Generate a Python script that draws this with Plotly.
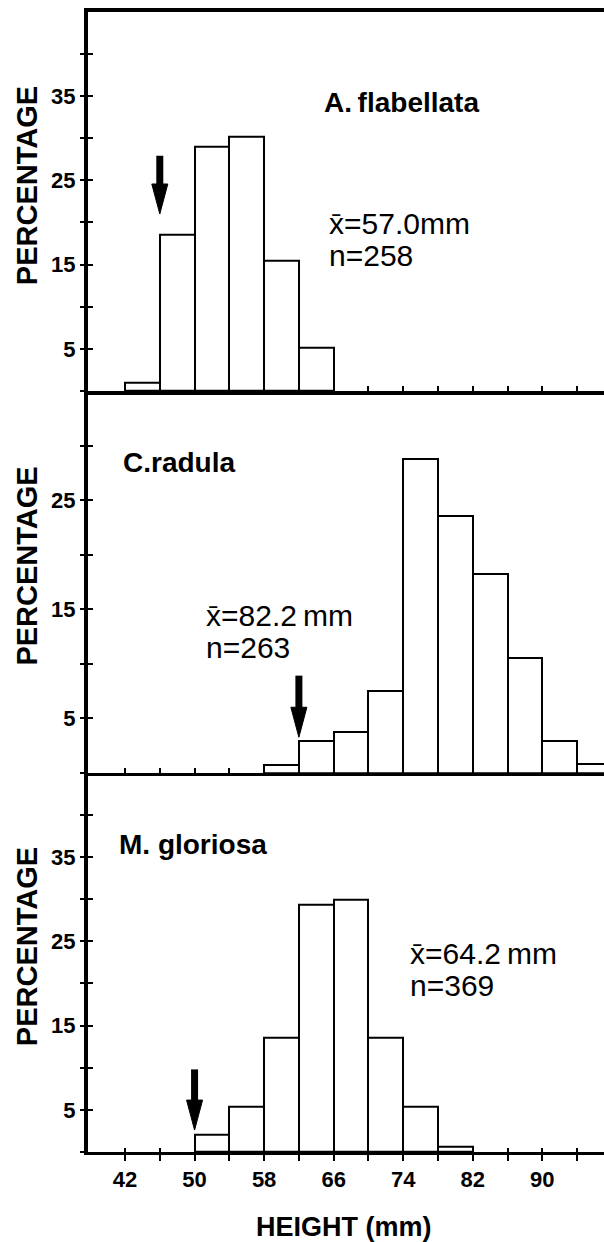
import plotly.graph_objects as go

# ---------------- data ----------------
bin_width = 4
flab_bins = [42, 46, 50, 54, 58, 62]
flab_pct = [1.0, 18.6, 29.0, 30.2, 15.5, 5.1]

rad_bins = [58, 62, 66, 70, 74, 78, 82, 86, 90, 94]
rad_pct = [0.7, 2.9, 3.7, 7.5, 28.8, 23.5, 18.2, 10.5, 2.9, 0.8]

glo_bins = [50, 54, 58, 62, 66, 70, 74, 78]
glo_pct = [2.0, 5.4, 13.6, 29.3, 29.9, 13.6, 5.4, 0.6]

species = ["A.\u2009flabellata", "C.radula", "M. gloriosa"]
means = ["x\u0304=57.0mm", "x\u0304=82.2\u2009mm", "x\u0304=64.2\u2009mm"]
counts = ["n=258", "n=263", "n=369"]

arrow_x = [46, 62, 50]
arrow_top = [27.9, 8.9, 9.8]
arrow_tip = [21.0, 3.25, 2.6]

x_ticks = list(range(42, 98, 4))
x_labels = ["42", "", "50", "", "58", "", "66", "", "74", "", "82", "", "90", ""]
y_ticks_45 = [0, 5, 10, 15, 20, 25, 30, 35, 40]
y_labels_45 = ["", "5", "", "15", "", "25", "", "35", ""]
y_ticks_35 = [0, 5, 10, 15, 20, 25, 30]
y_labels_35 = ["", "5", "", "15", "", "25", ""]

# ---------------- layout geometry ----------------
W, H = 604, 1242
ML = 88
PW = W - ML
x_range = [37.74, 97.1]
y_ranges = [[0, 45], [0, 35], [0, 45]]
px_edges = [11.7, 391.0, 772.7, 1152.0]  # top of panel 1, boundaries, bottom of panel 3
domains = [[1 - px_edges[i + 1] / H, 1 - px_edges[i] / H] for i in range(3)]

label_pos = [  # (species x, species y, stats x, mean y, n y)
    (64.7, 34.2, 65.2, 19.9, 16.1),
    (41.5, 28.4, 51.1, 14.4, 11.5),
    (41.1, 36.5, 74.6, 23.6, 19.8),
]

FONT = "Liberation Sans, Arial, Helvetica, sans-serif"
TICKFONT = dict(family=FONT, size=22, color="black", weight="bold")

fig = go.Figure()

panels = [(flab_bins, flab_pct), (rad_bins, rad_pct), (glo_bins, glo_pct)]
x_px_per_mm = PW / (x_range[1] - x_range[0])

annotations = []
for i, (bins, pct) in enumerate(panels):
    xa = "x" if i == 0 else f"x{i+1}"
    ya = "y" if i == 0 else f"y{i+1}"
    fig.add_trace(go.Bar(
        x=[b + bin_width / 2 for b in bins], y=pct, width=bin_width,
        marker=dict(color="white", line=dict(color="black", width=2)),
        xaxis=xa, yaxis=ya, showlegend=False, hoverinfo="skip",
    ))
    # invisible helper trace so the overlay (inner tick) y axis is drawn
    fig.add_trace(go.Scatter(
        x=bins[:1], y=pct[:1], mode="markers", marker=dict(opacity=0),
        xaxis=xa, yaxis=f"y{i+4}", showlegend=False, hoverinfo="skip",
    ))
    # arrow
    panel_h = (px_edges[i + 1] - px_edges[i])
    y_px_per_unit = panel_h / (y_ranges[i][1] - y_ranges[i][0])
    head_len = 30 / y_px_per_unit
    head_hw = 8 / x_px_per_mm
    ax_, at, tip = arrow_x[i], arrow_top[i], arrow_tip[i]
    fig.add_trace(go.Scatter(
        x=[ax_, ax_], y=[at, tip + head_len * 0.8], mode="lines",
        line=dict(color="black", width=7), xaxis=xa, yaxis=ya,
        showlegend=False, hoverinfo="skip",
    ))
    fig.add_trace(go.Scatter(
        x=[ax_ - head_hw, ax_ + head_hw, ax_, ax_ - head_hw],
        y=[tip + head_len, tip + head_len, tip, tip + head_len],
        mode="lines", fill="toself", fillcolor="black",
        line=dict(color="black", width=1), xaxis=xa, yaxis=ya,
        showlegend=False, hoverinfo="skip",
    ))
    sx, sy, tx, my, ny = label_pos[i]
    annotations.append(dict(x=sx, y=sy, xref=xa, yref=ya, text=f"<b>{species[i]}</b>",
                            showarrow=False, xanchor="left", yanchor="middle",
                            font=dict(family=FONT, size=28, color="black")))
    annotations.append(dict(x=tx, y=my, xref=xa, yref=ya, text=means[i],
                            showarrow=False, xanchor="left", yanchor="middle",
                            font=dict(family=FONT, size=30, color="black")))
    annotations.append(dict(x=tx, y=ny, xref=xa, yref=ya, text=counts[i],
                            showarrow=False, xanchor="left", yanchor="middle",
                            font=dict(family=FONT, size=30, color="black")))
    annotations.append(dict(x=(27 - ML) / PW, y=0.54, xref="paper", yref=f"{ya} domain",
                            text="<b>PERCENTAGE</b>", textangle=-90, showarrow=False,
                            xanchor="center", yanchor="middle",
                            font=dict(family=FONT, size=29, color="black")))

# helper trace for inner x ticks on the bottom panel
fig.add_trace(go.Scatter(
    x=glo_bins[:1], y=glo_pct[:1], mode="markers", marker=dict(opacity=0),
    xaxis="x4", yaxis="y3", showlegend=False, hoverinfo="skip",
))

annotations.append(dict(x=(344 - ML) / PW, y=1 - 1227 / H, xref="paper", yref="paper",
                        text="<b>HEIGHT (mm)</b>", showarrow=False,
                        xanchor="center", yanchor="middle",
                        font=dict(family=FONT, size=27, color="black")))

layout = dict(
    width=W, height=H,
    margin=dict(l=ML, r=0, t=0, b=0, pad=0),
    paper_bgcolor="white", plot_bgcolor="white",
    bargap=0, showlegend=False,
    font=dict(family=FONT, color="black"),
    annotations=annotations,
)

for i in range(3):
    xk = "xaxis" if i == 0 else f"xaxis{i+1}"
    yk = "yaxis" if i == 0 else f"yaxis{i+1}"
    ya = "y" if i == 0 else f"y{i+1}"
    xa = "x" if i == 0 else f"x{i+1}"
    last = (i == 2)
    layout[xk] = dict(
        domain=[0, 1], anchor=ya, range=x_range, fixedrange=True,
        showgrid=False, zeroline=False,
        showline=True, linecolor="black", linewidth=4 if i == 0 else 3,
        mirror=(i == 0),
        tickmode="array", tickvals=x_ticks, ticktext=x_labels,
        ticks="outside" if last else "inside", ticklen=6 if last else 5,
        tickwidth=2, tickcolor="black",
        showticklabels=last,
        tickfont=TICKFONT,
    )
    tv = y_ticks_35 if i == 1 else y_ticks_45
    tt = y_labels_35 if i == 1 else y_labels_45
    layout[yk] = dict(
        domain=domains[i], anchor=xa, range=y_ranges[i], fixedrange=True,
        showgrid=False, zeroline=False,
        showline=True, linecolor="black", linewidth=4,
        tickmode="array", tickvals=tv, ticktext=tt,
        ticks="outside", ticklen=4, tickwidth=2, tickcolor="black",
        ticklabelstandoff=0,
        tickfont=TICKFONT,
    )
    # overlay axis giving the inner half of the crossing y ticks
    layout[f"yaxis{i+4}"] = dict(
        overlaying=ya, anchor=xa, side="left", range=y_ranges[i], fixedrange=True,
        showgrid=False, zeroline=False, showline=False,
        tickmode="array", tickvals=tv, showticklabels=False,
        ticks="inside", ticklen=5, tickwidth=2, tickcolor="black",
    )

layout["xaxis4"] = dict(
    overlaying="x3", anchor="y3", side="bottom", range=x_range, fixedrange=True,
    showgrid=False, zeroline=False, showline=False,
    tickmode="array", tickvals=x_ticks, showticklabels=False,
    ticks="inside", ticklen=4, tickwidth=2, tickcolor="black",
)

fig.update_layout(**layout)
fig.write_html("out.html")
